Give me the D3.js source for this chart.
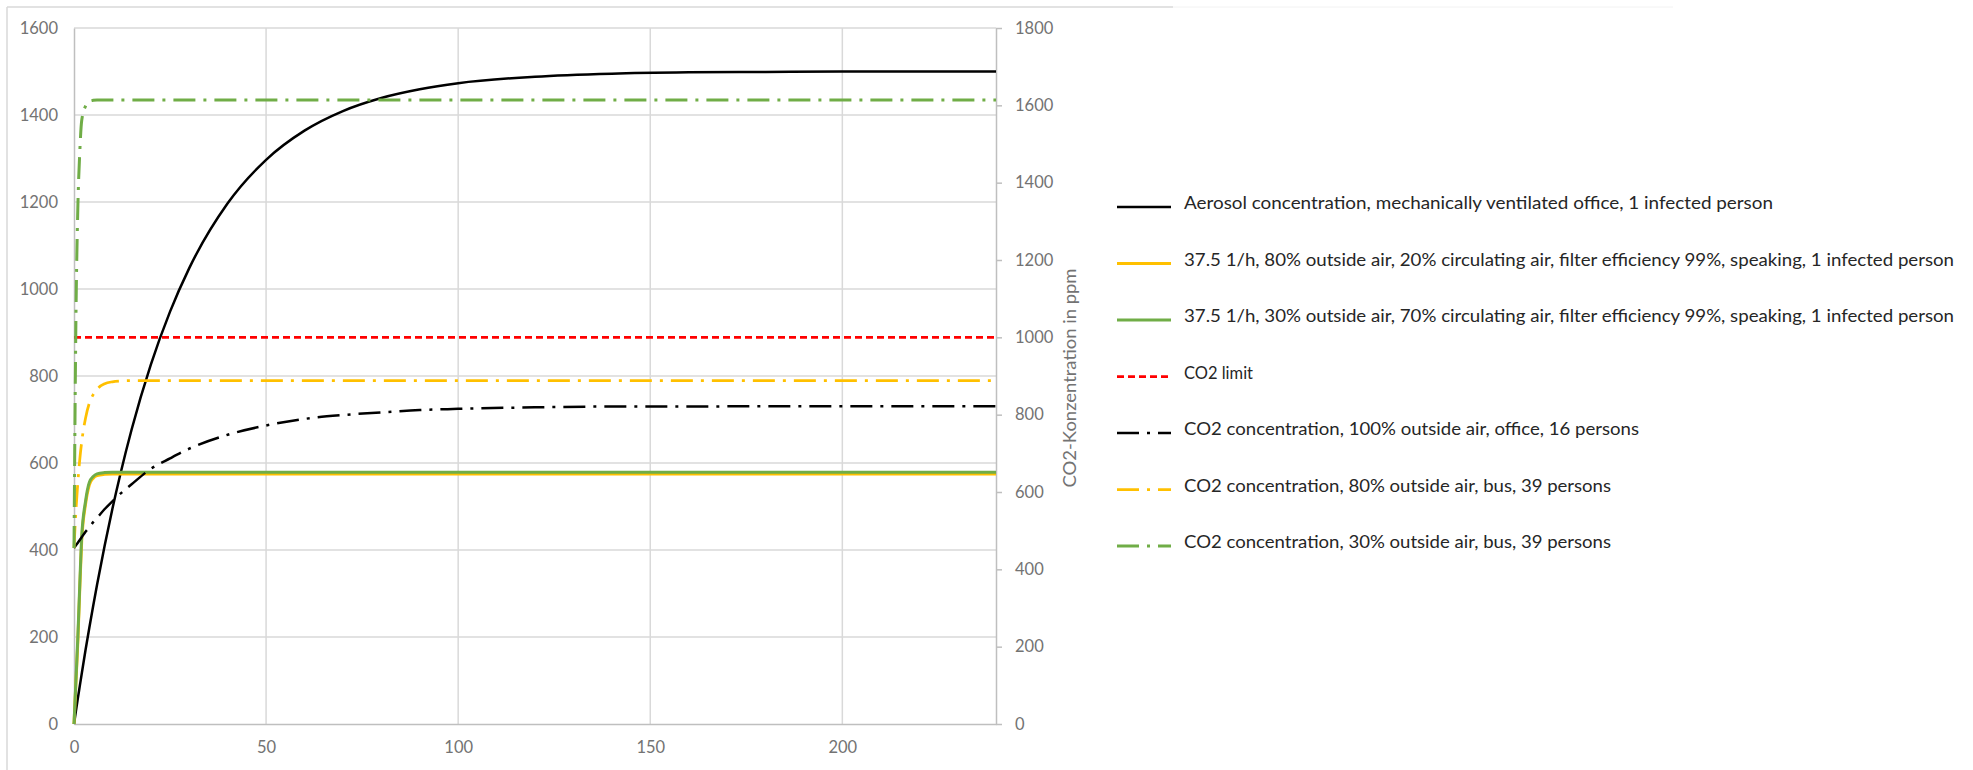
<!DOCTYPE html>
<html>
<head>
<meta charset="utf-8">
<script src="https://cdn.jsdelivr.net/npm/d3@7"></script>
<style>
  body { margin: 0; background: #fff; }
  text { font-family: Lato, "Open Sans", sans-serif; }
</style>
</head>
<body>
<svg id="chart" width="1973" height="770"></svg>
<script>
// time in minutes
let times = [0, 0.5, 1, 1.5, 2, 3, 4, 5, 6, 8, 10, 12, 15, 20, 25, 30, 40, 50, 60, 70, 80, 90, 100, 120, 140, 160, 180, 200, 220, 240];

// left axis (aerosol concentration)
let aerosolOffice = [0, 30, 59, 87, 115, 170, 222, 272, 320, 411, 495, 572, 677, 826, 948, 1048, 1197, 1297, 1364, 1409, 1439, 1459, 1473, 1488, 1495, 1498, 1499, 1500, 1500, 1500];
let bus80 = [0, 95, 190, 310, 420, 505, 550, 565, 571, 574, 575, 575, 575, 575, 575, 575, 575, 575, 575, 575, 575, 575, 575, 575, 575, 575, 575, 575, 575, 575];
let bus30 = [0, 100, 200, 320, 430, 512, 556, 569, 575, 578, 579, 579, 579, 579, 579, 579, 579, 579, 579, 579, 579, 579, 579, 579, 579, 579, 579, 579, 579, 579];

// right axis (CO2 in ppm)
let limitTimes = [0, 240];
let co2Limit = [1000, 1000];
let co2Office = [455, 462, 469, 476, 483, 497, 509, 522, 533, 556, 576, 595, 620, 660, 687, 712, 748, 772, 789, 799, 806, 812, 815, 819, 821, 821, 822, 822, 822, 822];
let co2Bus80 = [455, 551, 625, 684, 729, 791, 830, 852, 866, 880, 885, 887, 888, 888, 888, 888, 888, 888, 888, 888, 888, 888, 888, 888, 888, 888, 888, 888, 888, 888];
let co2Bus30 = [455, 1046, 1336, 1478, 1560, 1598, 1610, 1613, 1614, 1614, 1614, 1614, 1614, 1614, 1614, 1614, 1614, 1614, 1614, 1614, 1614, 1614, 1614, 1614, 1614, 1614, 1614, 1614, 1614, 1614];

let xTicks = [0, 50, 100, 150, 200];
let leftTicks = [0, 200, 400, 600, 800, 1000, 1200, 1400, 1600];
let rightTicks = [0, 200, 400, 600, 800, 1000, 1200, 1400, 1600, 1800];

let labels = [
    'Aerosol concentration, mechanically ventilated office, 1 infected person',
    '37.5 1/h, 80% outside air, 20% circulating air, filter efficiency 99%, speaking, 1 infected person',
    '37.5 1/h, 30% outside air, 70% circulating air, filter efficiency 99%, speaking, 1 infected person',
    'CO2 limit',
    'CO2 concentration, 100% outside air, office, 16 persons',
    'CO2 concentration, 80% outside air, bus, 39 persons',
    'CO2 concentration, 30% outside air, bus, 39 persons'
];
let labelWidths = [589, 770, 770, 69, 455, 427, 427];

let margin = {top: 28, left: 74};
let width = 996 - 74;
let height = 724 - 28;

let svg = d3.select('#chart');

// chart area border
svg.append('line').attr('x1', 7).attr('y1', 7).attr('x2', 1173).attr('y2', 7)
    .attr('stroke', '#d9d9d9').attr('stroke-width', 1.5);
svg.append('line').attr('x1', 1173).attr('y1', 7).attr('x2', 1673).attr('y2', 7)
    .attr('stroke', '#f2f2f2').attr('stroke-width', 1);
svg.append('line').attr('x1', 7).attr('y1', 7).attr('x2', 7).attr('y2', 770)
    .attr('stroke', '#d9d9d9').attr('stroke-width', 1.5);

let g = svg.append('g').attr('transform', `translate(${margin.left},${margin.top})`);

let xScale = d3.scaleLinear().domain([0, 240]).range([0, width]);
let yLeft = d3.scaleLinear().domain([0, 1600]).range([height, 0]);
let yRight = d3.scaleLinear().domain([0, 1800]).range([height, 0]);

// gridlines
g.append('g').selectAll('line').data(leftTicks.slice(1)).enter().append('line')
    .attr('x1', 0).attr('x2', width)
    .attr('y1', d => yLeft(d)).attr('y2', d => yLeft(d))
    .attr('stroke', '#d9d9d9').attr('stroke-width', 1.5);
g.append('g').selectAll('line').data(xTicks.slice(1)).enter().append('line')
    .attr('x1', d => xScale(d)).attr('x2', d => xScale(d))
    .attr('y1', 0).attr('y2', height)
    .attr('stroke', '#d9d9d9').attr('stroke-width', 1.5);

function styleAxis(sel) {
    sel.select('.domain').attr('stroke', '#bfbfbf').attr('stroke-width', 1.5);
    sel.selectAll('.tick line').attr('stroke', '#bfbfbf').attr('stroke-width', 1.5);
    sel.selectAll('text').attr('fill', '#737373').style('font-size', '16.5px')
        .style('font-family', 'Lato, "Open Sans", sans-serif');
}

let fmt = d3.format('d');

g.append('g')
    .call(d3.axisLeft(yLeft).tickValues(leftTicks).tickFormat(fmt).tickSize(0).tickSizeOuter(0).tickPadding(16))
    .call(styleAxis);

g.append('g').attr('transform', `translate(0,${height})`)
    .call(d3.axisBottom(xScale).tickValues(xTicks).tickFormat(fmt).tickSize(0).tickSizeOuter(0).tickPadding(17))
    .call(styleAxis);

g.append('g').attr('transform', `translate(${width},0)`)
    .call(d3.axisRight(yRight).tickValues(rightTicks).tickFormat(fmt).tickSize(6).tickSizeOuter(0).tickPadding(13))
    .call(styleAxis);

svg.append('text')
    .attr('transform', 'translate(1076,378) rotate(-90)')
    .attr('text-anchor', 'middle')
    .attr('fill', '#737373')
    .style('font-size', '17px')
    .attr('textLength', 219)
    .attr('lengthAdjust', 'spacingAndGlyphs')
    .text('CO2-Konzentration in ppm');

// series
let series = [
    {t: times, v: aerosolOffice, y: yLeft, color: '#000000', w: 2.5, dash: null},
    {t: times, v: bus80, y: yLeft, color: '#ffc000', w: 3, dash: null},
    {t: times, v: bus30, y: yLeft, color: '#70ad47', w: 3, dash: null},
    {t: limitTimes, v: co2Limit, y: yRight, color: '#ff0000', w: 2.75, dash: '7,4'},
    {t: times, v: co2Office, y: yRight, color: '#000000', w: 2.5, dash: '22,8,3,8'},
    {t: times, v: co2Bus80, y: yRight, color: '#ffc000', w: 2.75, dash: '22,8,3,8'},
    {t: times, v: co2Bus30, y: yRight, color: '#70ad47', w: 3, dash: '22,8,3,8'}
];

series.forEach(function(s) {
    let line = d3.line()
        .x((d, i) => xScale(s.t[i]))
        .y(d => s.y(d))
        .curve(d3.curveMonotoneX);
    g.append('path')
        .datum(s.v)
        .attr('d', line)
        .attr('fill', 'none')
        .attr('stroke', s.color)
        .attr('stroke-width', s.w)
        .attr('stroke-dasharray', s.dash);
});

// legend
let legend = svg.append('g').attr('class', 'legend');
let items = legend.selectAll('g').data(series).enter().append('g')
    .attr('transform', (d, i) => `translate(1117,${207 + i * 56.5})`);
items.append('line')
    .attr('x1', 0).attr('x2', 54).attr('y1', 0).attr('y2', 0)
    .attr('stroke', d => d.color)
    .attr('stroke-width', d => d.w)
    .attr('stroke-dasharray', d => d.dash);
items.append('text')
    .attr('x', 67).attr('y', 2)
    .attr('fill', '#262626')
    .style('font-size', '17px')
    .attr('textLength', (d, i) => labelWidths[i])
    .attr('lengthAdjust', 'spacingAndGlyphs')
    .text((d, i) => labels[i]);
</script>
</body>
</html>
